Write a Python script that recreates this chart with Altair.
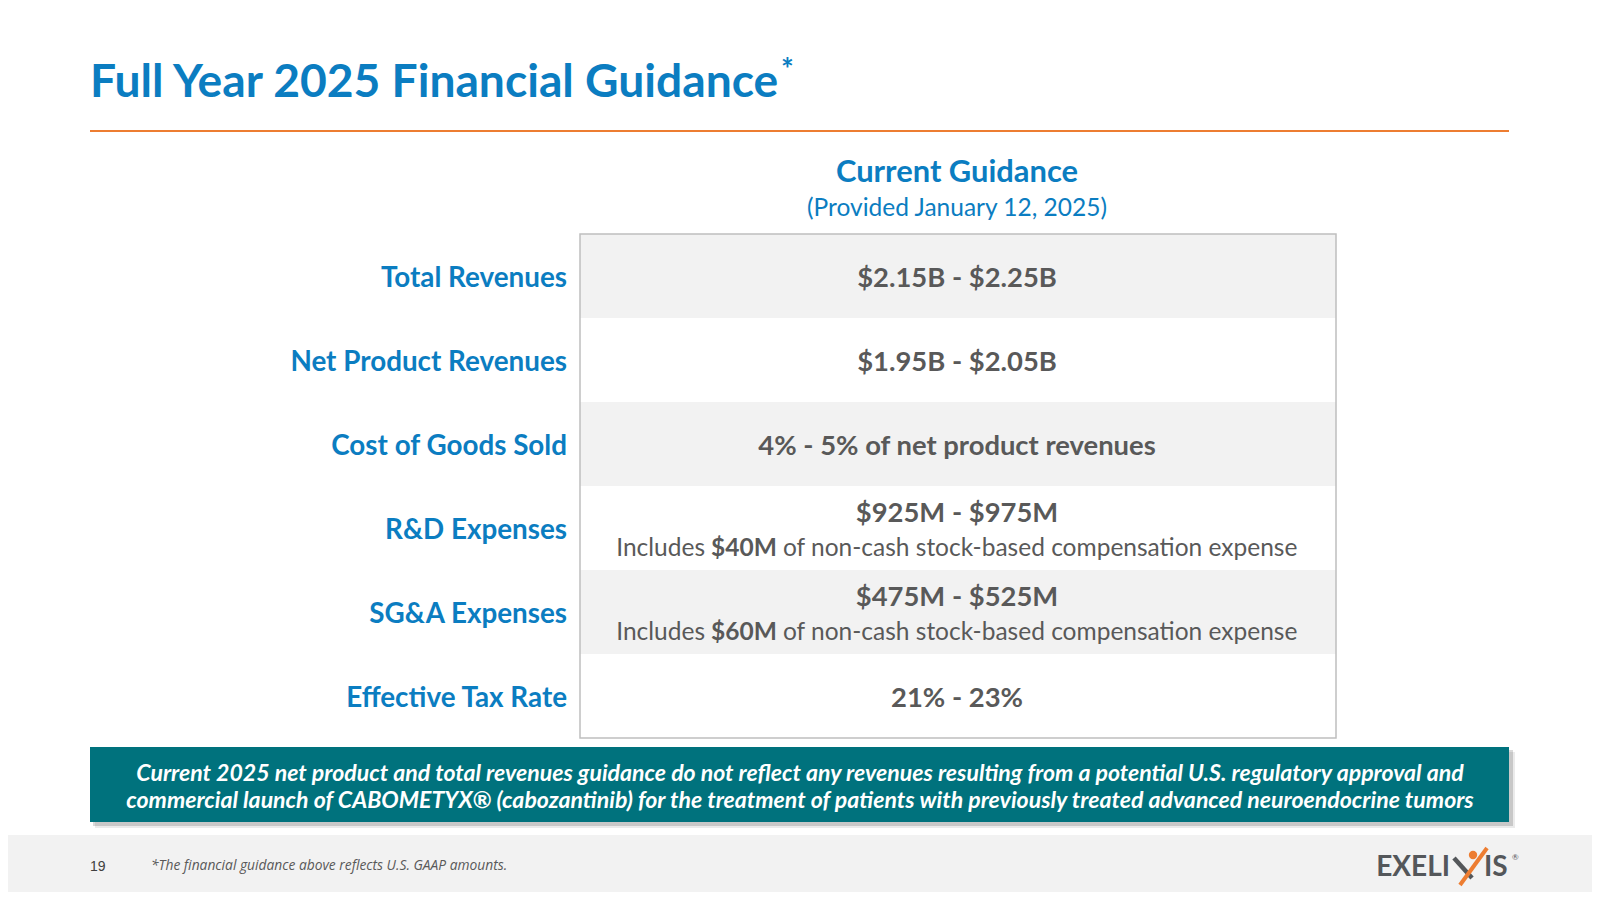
import altair as alt
import pandas as pd

# ---------------- data ----------------
title_text = "Full Year 2025 Financial Guidance"
title_mark = "*"
col_title = "Current Guidance"
col_subtitle = "(Provided January 12, 2025)"
rows = ["Total Revenues", "Net Product Revenues", "Cost of Goods Sold",
        "R&D Expenses", "SG&A Expenses", "Effective Tax Rate"]
values = ["$2.15B - $2.25B", "$1.95B - $2.05B", "4% - 5% of net product revenues",
          "$925M - $975M", "$475M - $525M", "21% - 23%"]
note_pre = ["", "", "", "Includes", "Includes", ""]
note_amount = ["", "", "", "$40M", "$60M", ""]
note_post = ["", "", "", "of non-cash stock-based compensation expense",
             "of non-cash stock-based compensation expense", ""]
shaded = [1, 0, 1, 0, 1, 0]
banner_lines = [
    "Current 2025 net product and total revenues guidance do not reflect any revenues resulting from a potential U.S. regulatory approval and",
    "commercial launch of CABOMETYX\u00ae (cabozantinib) for the treatment of patients with previously treated advanced neuroendocrine tumors",
]
page_number = "19"
footnote = "*The financial guidance above reflects U.S. GAAP amounts."
logo_left = "EXELI"
logo_right = "IS"
logo_reg = "\u00ae"

# ---------------- styles ----------------
BLUE = "#0B7DC1"
GRAY = "#595959"
ORANGE = "#ED7D31"
TEAL = "#00727D"
LIGHT = "#F2F2F2"
BORDER = "#BFBFBF"
LOGO_GRAY = "#54575A"
FONT = "Lato"


def P(v):
    # page pixel -> chart pixel (page has an 8px margin)
    return v - 8


one = pd.DataFrame({"k": [0]})


def txt(text, x, y, size, weight="normal", style="normal", color=GRAY,
        align="left", baseline="alphabetic", font=FONT, **kw):
    return alt.Chart(one).mark_text(
        text=text, fontSize=size, fontWeight=weight, fontStyle=style,
        color=color, align=align, baseline=baseline, font=font, **kw
    ).encode(x=alt.value(P(x)), y=alt.value(P(y)))


def box(x1, x2, y1, y2, **kw):
    return alt.Chart(one).mark_rect(**kw).encode(
        x=alt.value(P(x1)), x2=alt.value(P(x2)),
        y=alt.value(P(y1)), y2=alt.value(P(y2)))


def line(x1, x2, y1, y2, **kw):
    return alt.Chart(one).mark_rule(**kw).encode(
        x=alt.value(P(x1)), x2=alt.value(P(x2)),
        y=alt.value(P(y1)), y2=alt.value(P(y2)))


df = pd.DataFrame({"label": rows, "value": values, "pre": note_pre,
                   "amount": note_amount, "post": note_post, "shaded": shaded})

yenc = alt.Y("label:N", sort=rows,
             scale=alt.Scale(domain=rows, range=[P(234), P(738)],
                             paddingInner=0, paddingOuter=0),
             axis=None)

base = alt.Chart(df)

bands = base.transform_filter("datum.shaded == 1").mark_rect(color=LIGHT).encode(
    y=yenc, x=alt.value(P(580)), x2=alt.value(P(1336)))

table_border = box(580, 1336, 234, 738, fill=None, stroke=BORDER, strokeWidth=1.5)

row_labels = base.mark_text(align="right", baseline="middle", font=FONT,
                            fontSize=27.8, fontWeight="bold", color=BLUE, dy=3).encode(
    y=yenc, x=alt.value(P(567)), text="label:N")

vals_single = base.transform_filter("datum.pre == ''").mark_text(
    align="center", baseline="middle", font=FONT, fontSize=27.4,
    fontWeight="bold", color=GRAY, dy=3).encode(
    y=yenc, x=alt.value(P(957)), text="value:N")

vals_double = base.transform_filter("datum.pre != ''").mark_text(
    align="center", baseline="middle", font=FONT, fontSize=27.4,
    fontWeight="bold", color=GRAY, dy=-14).encode(
    y=yenc, x=alt.value(P(957)), text="value:N")

notes = base.transform_filter("datum.pre != ''")
note_pre_l = notes.mark_text(align="right", baseline="middle", font=FONT,
                             fontSize=24.5, color=GRAY, dy=21).encode(
    y=yenc, x=alt.value(P(705)), text="pre:N")
note_amt_l = notes.mark_text(align="left", baseline="middle", font=FONT,
                             fontSize=24.5, fontWeight="bold", color=GRAY, dy=21).encode(
    y=yenc, x=alt.value(P(711)), text="amount:N")
note_post_l = notes.mark_text(align="left", baseline="middle", font=FONT,
                              fontSize=24.5, color=GRAY, dy=21).encode(
    y=yenc, x=alt.value(P(783)), text="post:N")

layers = [
    # footer band
    box(0, 1600, 835, 900, color=LIGHT),
    # title
    txt(title_text, 90, 97, 46.2, weight="bold", color=BLUE),
    txt(title_mark, 781, 80, 30, weight="bold", color=BLUE),
    line(90, 1509, 131, 131, color=ORANGE, strokeWidth=2),
    # column header
    txt(col_title, 957, 182, 30.9, weight="bold", color=BLUE, align="center"),
    txt(col_subtitle, 957, 209, 24.5, color=BLUE, align="center", baseline="middle"),
    # table
    bands, table_border, row_labels, vals_single, vals_double,
    note_pre_l, note_amt_l, note_post_l,
    # banner with shadow
    box(95, 1515, 752, 828, color="#000000", opacity=0.08),
    box(93, 1513, 750, 826, color="#000000", opacity=0.15),
    box(90, 1509, 747, 822, color=TEAL),
    txt(banner_lines, 800, 774, 23.1, weight="bold", style="italic", color="white",
        align="center", baseline="middle", lineHeight=27),
    # footer
    txt(page_number, 90, 867, 14, color="#404040", baseline="middle",
        font="Liberation Sans"),
    txt(footnote, 151, 866, 13.8, style="italic", color=GRAY, baseline="middle",
        font="Open Sans"),
    # logo
    txt(logo_left, 1450, 868, 28, weight="bold", color=LOGO_GRAY, align="right",
        baseline="middle"),
    line(1454, 1472, 858, 878, color=LOGO_GRAY, strokeWidth=4.5),
    line(1460, 1487, 885, 848, color=ORANGE, strokeWidth=4),
    alt.Chart(one).mark_point(filled=True, color=ORANGE, size=70, opacity=1).encode(
        x=alt.value(P(1473)), y=alt.value(P(855))),
    txt(logo_right, 1484, 868, 28, weight="bold", color=LOGO_GRAY, align="left",
        baseline="middle"),
    txt(logo_reg, 1512, 858, 8, color=LOGO_GRAY, baseline="middle"),
]

chart = alt.layer(*layers).properties(
    width=1584, height=884, padding=0, autosize="none", background="white"
).configure_view(stroke=None)

chart.save("out.html", embed_options={"renderer": "svg", "actions": False})
